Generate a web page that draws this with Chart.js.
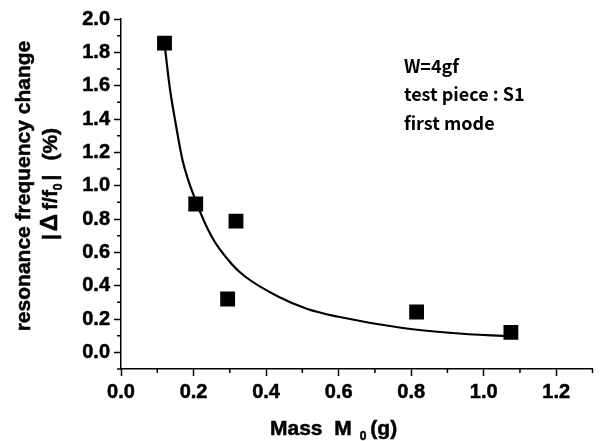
<!DOCTYPE html>
<html>
<head>
<meta charset="utf-8">
<script src="https://cdn.jsdelivr.net/npm/chart.js@4.4.1/dist/chart.umd.min.js"></script>
<style>
  html, body { margin: 0; padding: 0; background: #fff; }
  #wrap { width: 603px; height: 441px; position: relative; }
</style>
</head>
<body>
<div id="wrap"><canvas id="chart"></canvas></div>
<script>
// measured points: mass M0 (g) vs |df/f0| (%)
const massG = [0.12, 0.206, 0.317, 0.294, 0.815, 1.075];
const freqChange = [1.855, 0.89, 0.787, 0.32, 0.242, 0.12];

// fitted curve
const fitMass = [0.12, 0.135, 0.151, 0.17, 0.206, 0.251, 0.305, 0.342, 0.433, 0.514, 0.596, 0.777, 0.913, 1.075];
const fitChange = [1.85, 1.58, 1.37, 1.15, 0.91, 0.69, 0.53, 0.455, 0.335, 0.26, 0.215, 0.146, 0.116, 0.095];

const notes = ['W=4gf', 'test piece : S1', 'first mode'];

const FAMILY = '"Liberation Sans", Arial, sans-serif';
const TITLE = 'bold 21px ' + FAMILY;
const SUB = 'bold 12px ' + FAMILY;

const isMajor = v => Math.round(v * 10) % 2 === 0;

// draw text a bit heavier, like the original plot
function heavyText(ctx, s, x, y) {
  ctx.fillText(s, x, y);
  ctx.strokeText(s, x, y);
}

// outward minor ticks + axis titles + notes
const extras = {
  id: 'extras',
  afterDraw(chart) {
    const { ctx, chartArea: a, scales: { x, y } } = chart;
    ctx.save();
    ctx.strokeStyle = '#000';
    ctx.lineWidth = 1.5;
    ctx.beginPath();
    x.ticks.forEach(t => {
      if (isMajor(t.value)) return;
      const px = x.getPixelForValue(t.value);
      ctx.moveTo(px, a.bottom); ctx.lineTo(px, a.bottom + 4);
    });
    y.ticks.forEach(t => {
      if (isMajor(t.value)) return;
      const py = y.getPixelForValue(t.value);
      ctx.moveTo(a.left, py); ctx.lineTo(a.left - 4, py);
    });
    ctx.stroke();

    ctx.fillStyle = '#000';
    ctx.lineWidth = 0.5;
    ctx.textBaseline = 'alphabetic';

    // x title: Mass  M0 (g)
    let cx = a.left + 149;
    const by = 435;
    ctx.font = TITLE;
    ctx.textAlign = 'left';
    heavyText(ctx, 'Mass  M', cx, by);
    cx += ctx.measureText('Mass  M').width + 8;
    ctx.font = SUB;
    heavyText(ctx, '0', cx, by + 5);
    cx += ctx.measureText('0').width + 4;
    ctx.font = TITLE;
    heavyText(ctx, '(g)', cx, by);

    // y title, two rotated lines
    ctx.save();
    ctx.translate(24, 186);
    ctx.rotate(-Math.PI / 2);
    ctx.font = TITLE;
    ctx.textAlign = 'center';
    ctx.textBaseline = 'middle';
    heavyText(ctx, 'resonance frequency change', 0, 0);
    ctx.restore();

    ctx.save();
    ctx.translate(57, 184);
    ctx.rotate(-Math.PI / 2);
    ctx.textBaseline = 'alphabetic';
    ctx.textAlign = 'left';
    const parts = [
      { t: '|', f: TITLE, dy: 0, gap: 3 },
      { t: 'Δ', f: 'bold 24px ' + FAMILY, dy: 0, gap: 4 },
      { t: 'f/f', f: TITLE, dy: 0, gap: 0 },
      { t: '0', f: SUB, dy: 5, gap: 3 },
      { t: '|', f: TITLE, dy: 0, gap: 14 },
      { t: '(%)', f: TITLE, dy: 0, gap: 0 }
    ];
    let w = 0;
    parts.forEach(p => { ctx.font = p.f; w += ctx.measureText(p.t).width + p.gap; });
    let px = -w / 2;
    parts.forEach(p => {
      ctx.font = p.f;
      heavyText(ctx, p.t, px, p.dy);
      px += ctx.measureText(p.t).width + p.gap;
    });
    ctx.restore();

    // notes in the upper right, anchored to data coordinates
    ctx.font = 'bold 18px "Noto Sans CJK JP", ' + FAMILY;
    ctx.textAlign = 'left';
    ctx.textBaseline = 'middle';
    const nx = x.getPixelForValue(0.78);
    const ny = y.getPixelForValue(1.72);
    notes.forEach((s, i) => ctx.fillText(s, nx, ny + i * 28.5));
    ctx.restore();
  }
};

const tickFont = { family: FAMILY, size: 20, weight: 'bold' };

new Chart(document.getElementById('chart'), {
  type: 'scatter',
  data: {
    datasets: [
      {
        label: 'measured',
        data: massG.map((m, i) => ({ x: m, y: freqChange[i] })),
        pointStyle: 'rect',
        pointRadius: 10.5,
        pointHoverRadius: 10.5,
        backgroundColor: '#000',
        borderColor: '#000',
        borderWidth: 0
      },
      {
        label: 'fit',
        data: fitMass.map((m, i) => ({ x: m, y: fitChange[i] })),
        showLine: true,
        pointRadius: 0,
        borderColor: '#000',
        borderWidth: 2.2,
        cubicInterpolationMode: 'monotone'
      }
    ]
  },
  plugins: [extras],
  options: {
    responsive: true,
    maintainAspectRatio: false,
    animation: false,
    layout: { padding: { left: 0, right: 4, top: 19, bottom: 0 } },
    plugins: { legend: { display: false }, tooltip: { enabled: false } },
    scales: {
      x: {
        type: 'linear',
        min: 0, max: 1.3,
        afterFit: s => { s.height = 72; },
        grid: {
          drawOnChartArea: false,
          tickLength: 7,
          tickWidth: 1.5,
          tickColor: c => (c.tick && isMajor(c.tick.value)) ? '#000' : 'rgba(0,0,0,0)'
        },
        border: { color: '#000', width: 1.5 },
        ticks: {
          stepSize: 0.1,
          autoSkip: false,
          maxRotation: 0,
          padding: 4,
          color: '#000',
          textStrokeColor: '#000',
          textStrokeWidth: 0.5,
          font: tickFont,
          callback: v => isMajor(v) ? v.toFixed(1) : ''
        }
      },
      y: {
        type: 'linear',
        min: -0.1, max: 2.0,
        afterFit: s => { s.width = 121; },
        grid: {
          drawOnChartArea: false,
          tickLength: 7,
          tickWidth: 1.5,
          tickColor: c => (c.tick && isMajor(c.tick.value)) ? '#000' : 'rgba(0,0,0,0)'
        },
        border: { color: '#000', width: 1.5 },
        ticks: {
          stepSize: 0.1,
          autoSkip: false,
          padding: 4,
          color: '#000',
          textStrokeColor: '#000',
          textStrokeWidth: 0.5,
          font: tickFont,
          callback: v => isMajor(v) ? v.toFixed(1) : ''
        }
      }
    }
  }
});
</script>
</body>
</html>
